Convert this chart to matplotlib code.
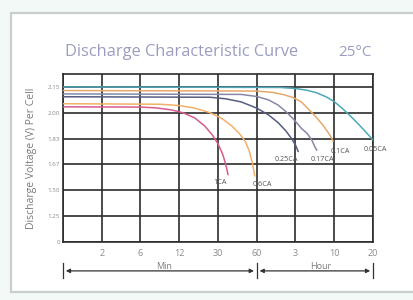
import numpy as np
import matplotlib
matplotlib.use('Agg')
import matplotlib.pyplot as plt
from matplotlib.patches import Rectangle

plt.rcParams['font.family'] = ['Open Sans', 'DejaVu Sans']

# ---- axis definitions (the chart uses an uneven, category-like grid) ----
time_ticks_min = [0, 2, 6, 12, 30, 60, 180, 600, 1200]
time_tick_labels = ['', '2', '6', '12', '30', '60', '3', '10', '20']
volt_ticks = [0, 1.25, 1.50, 1.67, 1.83, 2.00, 2.15]
volt_tick_labels = ['0', '1.25', '1.50', '1.67', '1.83', '2.00', '2.15']
volt_top = 2.225

# ---- discharge curves (time in minutes, voltage per cell) ----
rates = ['1CA', '0.6CA', '0.25CA', '0.17CA', '0.1CA', '0.05CA']

t_1ca = [0, 6, 8.4, 10.8, 13.8, 19.2, 23.7, 27.3, 30, 33.6, 36, 37.8]
v_1ca = [2.0345, 2.033, 2.0285, 2.0165, 2.0, 1.966, 1.915, 1.8555, 1.798, 1.734, 1.67, 1.602]

t_06ca = [0, 9, 12, 19.2, 26.4, 33, 40.5, 46.5, 51, 54, 56.4, 58.5]
v_06ca = [2.0525, 2.0495, 2.042, 2.027, 2.0, 1.9626, 1.915, 1.864, 1.814, 1.758, 1.686, 1.5935]

t_025ca = [0, 26.4, 36, 48, 60, 96, 126, 150, 168, 180, 209.4]
v_025ca = [2.093, 2.09, 2.081, 2.063, 2.027, 1.9864, 1.9354, 1.881, 1.83, 1.79, 1.75]

t_017ca = [0, 48, 60, 96, 126, 150, 174, 243, 306, 356.4, 390, 411]
v_017ca = [2.1095, 2.1065, 2.0945, 2.075, 2.045, 2.0075, 1.9575, 1.898, 1.864, 1.822, 1.7788, 1.758]

t_01ca = [0, 60, 108, 144, 174, 243, 327, 411, 482.4, 537, 570.6, 587.4]
v_01ca = [2.129, 2.126, 2.1185, 2.105, 2.087, 2.063, 2.018, 1.966, 1.915, 1.8674, 1.8351, 1.814]

t_005ca = [0, 132, 180, 306, 411, 516, 600, 720, 840, 960, 1080, 1200]
v_005ca = [2.15, 2.147, 2.141, 2.1305, 2.1155, 2.0915, 2.0645, 2.027, 1.983, 1.932, 1.8776, 1.8215]

curves_t = [t_1ca, t_06ca, t_025ca, t_017ca, t_01ca, t_005ca]
curves_v = [v_1ca, v_06ca, v_025ca, v_017ca, v_01ca, v_005ca]
colors = ['#d65c8e', '#f0b06a', '#565d80', '#8588a8', '#e6a96c', '#4ea8b8']
label_offsets = [(-8, -8), (8, -8), (-12, -8), (6, -9), (7, -10), (2, -10)]

# ---- uneven scales ----
xpos = np.arange(len(time_ticks_min), dtype=float)
ypos = np.arange(len(volt_ticks) + 1, dtype=float)
ypos[-1] = len(volt_ticks) - 0.5
yvals = np.array(volt_ticks + [volt_top], dtype=float)
xvals = np.array(time_ticks_min, dtype=float)


def fx(t):
    return np.interp(t, xvals, xpos)


def fx_inv(p):
    return np.interp(p, xpos, xvals)


def fy(v):
    return np.interp(v, yvals, ypos)


def fy_inv(p):
    return np.interp(p, ypos, yvals)


fig = plt.figure(figsize=(4.14, 3.0), dpi=100)
fig.patch.set_facecolor('#f3f9f7')
# white card with light border
card = Rectangle((11 / 414, 8 / 300), 1.0, 279 / 300, transform=fig.transFigure,
                 facecolor='white', edgecolor='#c9cfcc', linewidth=1.6, zorder=-10)
fig.patches.append(card)

ax = fig.add_axes([63 / 414, 58 / 300, 310 / 414, 168 / 300])
ax.set_zorder(5)
ax.set_facecolor('none')
ax.set_xscale('function', functions=(fx, fx_inv))
ax.set_yscale('function', functions=(fy, fy_inv))
ax.set_xlim(0, 1200)
ax.set_ylim(0, volt_top)

ax.set_xticks(time_ticks_min)
ax.set_xticklabels(time_tick_labels)
ax.set_yticks(volt_ticks)
ax.set_yticklabels(volt_tick_labels)
ax.minorticks_off()
ax.tick_params(axis='x', length=0, pad=5, labelsize=6.5, labelcolor='#8a8a8a')
ax.tick_params(axis='y', length=0, pad=2, labelsize=4.5, labelcolor='#8a8a8a')
ax.grid(True, color='#2c2c2c', linewidth=1.2)
ax.set_axisbelow(True)
for s in ax.spines.values():
    s.set_color('#2c2c2c')
    s.set_linewidth(1.2)

for t, v, c, name, off in zip(curves_t, curves_v, colors, rates, label_offsets):
    ax.plot(t, v, color=c, linewidth=1.1, zorder=3, solid_capstyle='round',
            solid_joinstyle='round')
    ax.annotate(name, xy=(t[-1], v[-1]), xytext=off, textcoords='offset pixels',
                ha='center', va='center', fontsize=5.2, color='#555555', zorder=4)

ax.set_ylabel('Discharge Voltage (V) Per Cell', fontsize=7.5, color='#7a7a7a', labelpad=8)

# Min / Hour range arrows below the axis
yarr = -0.172
arrow_kw = dict(arrowstyle='<|-|>', color='#333333', lw=0.9, mutation_scale=6,
                shrinkA=2, shrinkB=2)
ax.annotate('', xy=(0, yarr), xytext=(60, yarr), xycoords=('data', 'axes fraction'),
            textcoords=('data', 'axes fraction'), arrowprops=arrow_kw, annotation_clip=False)
ax.annotate('', xy=(60, yarr), xytext=(1200, yarr), xycoords=('data', 'axes fraction'),
            textcoords=('data', 'axes fraction'), arrowprops=arrow_kw, annotation_clip=False)
for tx in [0, 60, 1200]:
    ax.plot([tx, tx], [yarr - 0.045, yarr + 0.045], transform=ax.get_xaxis_transform(),
            color='#333333', lw=0.9, clip_on=False)
ax.text(fx_inv(2.6), yarr + 0.002, 'Min', transform=ax.get_xaxis_transform(),
        ha='center', va='bottom', fontsize=6.5, color='#7a7a7a')
ax.text(fx_inv(6.65), yarr + 0.002, 'Hour', transform=ax.get_xaxis_transform(),
        ha='center', va='bottom', fontsize=6.5, color='#7a7a7a')

fig.text(65 / 414, 1 - 52 / 300, 'Discharge Characteristic Curve', ha='left', va='center',
         fontsize=11.8, color='#9a9dc0')
fig.text(355 / 414, 1 - 52 / 300, '25°C', ha='center', va='center',
         fontsize=11, color='#9a9dc0')

fig.savefig('out.png', dpi=100, facecolor=fig.get_facecolor())
